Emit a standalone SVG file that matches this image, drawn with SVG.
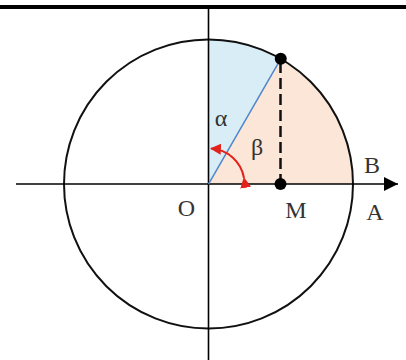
<svg xmlns="http://www.w3.org/2000/svg" width="406" height="360" viewBox="0 0 406 360">
<defs>
<style>
.lbl{font-family:"Liberation Serif","Times New Roman",serif;font-size:24px;fill:#333;text-anchor:middle}
.ax{stroke:#000;stroke-width:1.6;fill:none}
</style>
<marker id="ah" viewBox="0 0 10 10" refX="9" refY="5" markerWidth="11" markerHeight="11" markerUnits="userSpaceOnUse" orient="auto"><path d="M0,0 L10,5 L0,10 z" fill="#e3221c"/></marker>
<marker id="axh" viewBox="0 0 10 10" refX="10" refY="5" markerWidth="16" markerHeight="14" markerUnits="userSpaceOnUse" orient="auto"><path d="M0,0 L10,5 L0,10 z" fill="#000"/></marker>
</defs>
<rect width="406" height="360" fill="#fff"/>
<rect x="0" y="5" width="406" height="4" fill="#000"/>
<g id="sectors">
<path d="M208.5,184 L208.5,39.5 A144.5,144.5 0 0 1 280.75,58.86 Z" fill="#d9edf7"/>
<path d="M208.5,184 L280.75,58.86 A144.5,144.5 0 0 1 353,184 Z" fill="#fce6d7"/>
</g>
<g id="circle"><circle cx="208.5" cy="184" r="144.5" fill="none" stroke="#111" stroke-width="2"/></g>
<g id="connectors">
<line class="ax" x1="208.5" y1="9" x2="208.5" y2="360"/>
<line class="ax" x1="16" y1="184" x2="398" y2="184" marker-end="url(#axh)"/>
<line x1="208.5" y1="184" x2="280.75" y2="58.86" stroke="#4f86cc" stroke-width="1.5"/>
<line x1="280.5" y1="62" x2="280.5" y2="184" stroke="#111" stroke-width="2.5" stroke-dasharray="11,5"/>
<path d="M244,178 A35.5,35.5 0 0 0 211,148.6" fill="none" stroke="#e3221c" stroke-width="2" marker-start="url(#ah)" marker-end="url(#ah)"/>
</g>
<g id="P"><circle cx="280.75" cy="58.86" r="6" fill="#000"/></g>
<g id="M"><circle cx="280.5" cy="184" r="6" fill="#000"/><text class="lbl" x="296" y="218">M</text></g>
<g id="O"><text class="lbl" x="186.5" y="216">O</text></g>
<g id="B"><text class="lbl" x="372" y="173">B</text></g>
<g id="A"><text class="lbl" x="375" y="220">A</text></g>
<g id="alpha"><text class="lbl" x="221" y="126">α</text></g>
<g id="beta"><text class="lbl" x="257" y="155">β</text></g>
</svg>
